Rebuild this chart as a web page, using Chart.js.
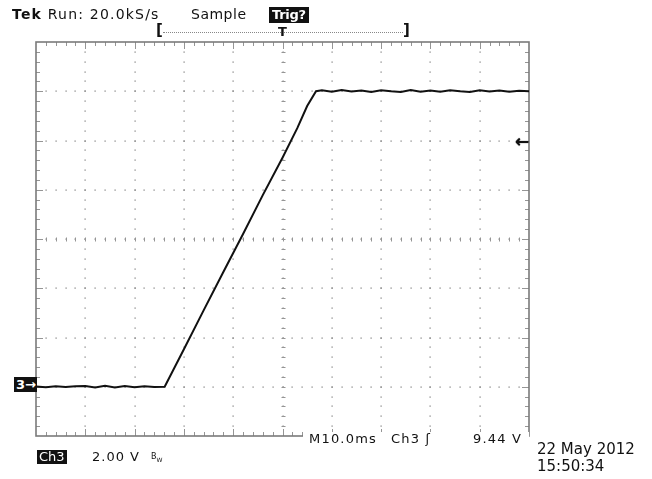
<!DOCTYPE html>
<html>
<head>
<meta charset="utf-8">
<script src="https://cdn.jsdelivr.net/npm/chart.js@4.4.1/dist/chart.umd.min.js"></script>
<style>
body { margin: 0; background: #fff; }
#wrap { position: relative; width: 652px; height: 479px; overflow: hidden; background: #fff; }
#scope { position: absolute; left: 0; top: 0; }
.lbl { position: absolute; font-family: 'DejaVu Sans', sans-serif; line-height: 1; white-space: pre; color: #111; }
.inv { background: #111; color: #fff; }
#readout { position: absolute; left: 303px; top: 432px; width: 226px; height: 16px; background: #fff; }
#readout .lbl { top: 0; font-size: 13px; letter-spacing: 1.2px; }
</style>
</head>
<body>
<div id="wrap">
  <canvas id="scope" width="652" height="479"></canvas>

  <div class="lbl" style="left:12px;top:7px;font-size:14px;letter-spacing:1.2px"><b>Tek</b> Run: 20.0kS/s</div>
  <div class="lbl" style="left:191px;top:7px;font-size:14px;letter-spacing:0.5px">Sample</div>
  <div class="lbl inv" style="left:269px;top:7px;font-size:13px;font-weight:bold;padding:1px 3px 2px 3px;letter-spacing:-0.3px">Trig?</div>

  <!-- record window bar -->
  <div class="lbl" style="left:156px;top:23px;font-size:15px;font-weight:bold">[</div>
  <div class="lbl" style="left:403px;top:23px;font-size:15px;font-weight:bold">]</div>
  <div style="position:absolute;left:163px;top:32px;width:240px;border-top:1px dotted #888"></div>
  <div class="lbl" style="left:278px;top:25px;font-size:13px;font-weight:bold">T</div>

  <!-- channel ground marker and trigger level arrow -->
  <div class="lbl inv" style="left:14px;top:377px;font-size:13px;font-weight:bold;padding:1px 1px 1px 2px">3→</div>
  <div class="lbl" style="left:515px;top:133px;font-size:17px;font-weight:bold;text-shadow:0 0 1px #000">←</div>

  <!-- readouts -->
  <div id="readout">
    <div class="lbl" style="left:6px">M10.0ms</div>
    <div class="lbl" style="left:88px">Ch3 ʃ</div>
    <div class="lbl" style="left:170px">9.44 V</div>
  </div>
  <div class="lbl inv" style="left:37px;top:450px;font-size:13px;padding:0 2px 1px 2px">Ch3</div>
  <div class="lbl" style="left:92px;top:450px;font-size:13px;letter-spacing:1px">2.00 V</div>
  <div class="lbl" style="left:151px;top:453px;font-size:8px">B<sub style="font-size:6px">W</sub></div>
  <div class="lbl" style="left:537px;top:442px;font-size:15px">22 May 2012</div>
  <div class="lbl" style="left:537px;top:459px;font-size:15px">15:50:34</div>
</div>

<script>
// channel 3 capture, time in ms, level in volts
const timeMs = [0, 2, 4, 6, 8, 10, 12, 14, 16, 18, 20, 22, 24, 26.1,
                30, 34, 38, 42, 46, 50, 53, 55, 56.8,
                58, 60, 62, 64, 66, 68, 70, 72, 74, 76, 78, 80, 82, 84, 86, 88, 90, 92, 94, 96, 98, 100];
const ch3Volts = [0.01, -0.02, 0.02, -0.01, 0.02, 0.03, -0.03, 0.04, -0.03, 0.03, -0.02, 0.02, -0.01, 0.0,
                  1.52, 3.1, 4.66, 6.2, 7.78, 9.3, 10.5, 11.4, 12.0,
                  12.04, 11.98, 12.05, 11.99, 12.03, 11.97, 12.04, 12.0, 11.97, 12.05, 11.98, 12.03, 11.98, 12.04, 12.0, 11.97, 12.04, 11.99, 12.03, 11.98, 12.02, 12.0];

// screen settings
const msPerDiv = 10;
const voltsPerDiv = 2;
const xDivs = 10;
const yDivs = 8;
const groundDiv = 1; // 0 V sits one division above the bottom

const points = timeMs.map(function(t, i){
    return { x: t, y: ch3Volts[i] };
});

// scope graticule: border, dotted division lines, minor ticks
const graticule = {
    id: 'graticule',
    beforeDatasetsDraw: function(chart){
        var ctx = chart.ctx;
        var xs = chart.scales.x, ys = chart.scales.y;
        var left = xs.getPixelForValue(0), right = xs.getPixelForValue(xDivs * msPerDiv);
        var bottom = ys.getPixelForValue(-groundDiv * voltsPerDiv);
        var top = ys.getPixelForValue((yDivs - groundDiv) * voltsPerDiv);
        var xAt = function(d){ return xs.getPixelForValue(d * msPerDiv); };
        var yAt = function(d){ return ys.getPixelForValue((d - groundDiv) * voltsPerDiv); };
        ctx.save();

        // dotted division lines
        ctx.fillStyle = '#7a7a7a';
        for (var i = 1; i < xDivs; i++) {
            for (var m = 1; m < yDivs * 5; m++) {
                ctx.fillRect(Math.round(xAt(i)) - 0.5, Math.round(yAt(m / 5)) - 0.5, 1.2, 1.2);
            }
        }
        for (var j = 1; j < yDivs; j++) {
            for (var m = 1; m < xDivs * 5; m++) {
                ctx.fillRect(Math.round(xAt(m / 5)) - 0.5, Math.round(yAt(j)) - 0.5, 1.2, 1.2);
            }
        }

        // minor ticks on the border and the centre cross
        ctx.strokeStyle = '#959595';
        ctx.lineWidth = 1;
        ctx.beginPath();
        var cy = Math.round(yAt(yDivs / 2)) + 0.5;
        var cx = Math.round(xAt(xDivs / 2)) + 0.5;
        for (var m = 1; m < xDivs * 5; m++) {
            var x = Math.round(xAt(m / 5)) + 0.5;
            var len = (m % 5 === 0) ? 7 : 4;
            ctx.moveTo(x, top); ctx.lineTo(x, top + len);
            ctx.moveTo(x, bottom); ctx.lineTo(x, bottom - len);
            ctx.moveTo(x, cy - 2); ctx.lineTo(x, cy + 2);
        }
        for (var m = 1; m < yDivs * 5; m++) {
            var y = Math.round(yAt(m / 5)) + 0.5;
            var len = (m % 5 === 0) ? 7 : 4;
            ctx.moveTo(left, y); ctx.lineTo(left + len, y);
            ctx.moveTo(right, y); ctx.lineTo(right - len, y);
            ctx.moveTo(cx - 2, y); ctx.lineTo(cx + 2, y);
        }
        ctx.stroke();

        // outer border
        ctx.strokeStyle = '#7a7a7a';
        ctx.lineWidth = 1.6;
        ctx.strokeRect(left, top, right - left, bottom - top);
        ctx.restore();
    }
};

new Chart(document.getElementById('scope').getContext('2d'), {
    type: 'line',
    data: {
        datasets: [
            {
                data: points,
                borderColor: '#111',
                borderWidth: 2,
                pointRadius: 0,
                tension: 0,
                fill: false
            }
        ]
    },
    options: {
        responsive: false,
        animation: false,
        events: [],
        layout: { padding: { left: 36, right: 123, top: 42, bottom: 43 } },
        scales: {
            x: { type: 'linear', display: false, min: 0, max: xDivs * msPerDiv },
            y: { type: 'linear', display: false, min: -groundDiv * voltsPerDiv, max: (yDivs - groundDiv) * voltsPerDiv }
        },
        plugins: { legend: { display: false }, tooltip: { enabled: false } }
    },
    plugins: [graticule]
});
</script>
</body>
</html>
